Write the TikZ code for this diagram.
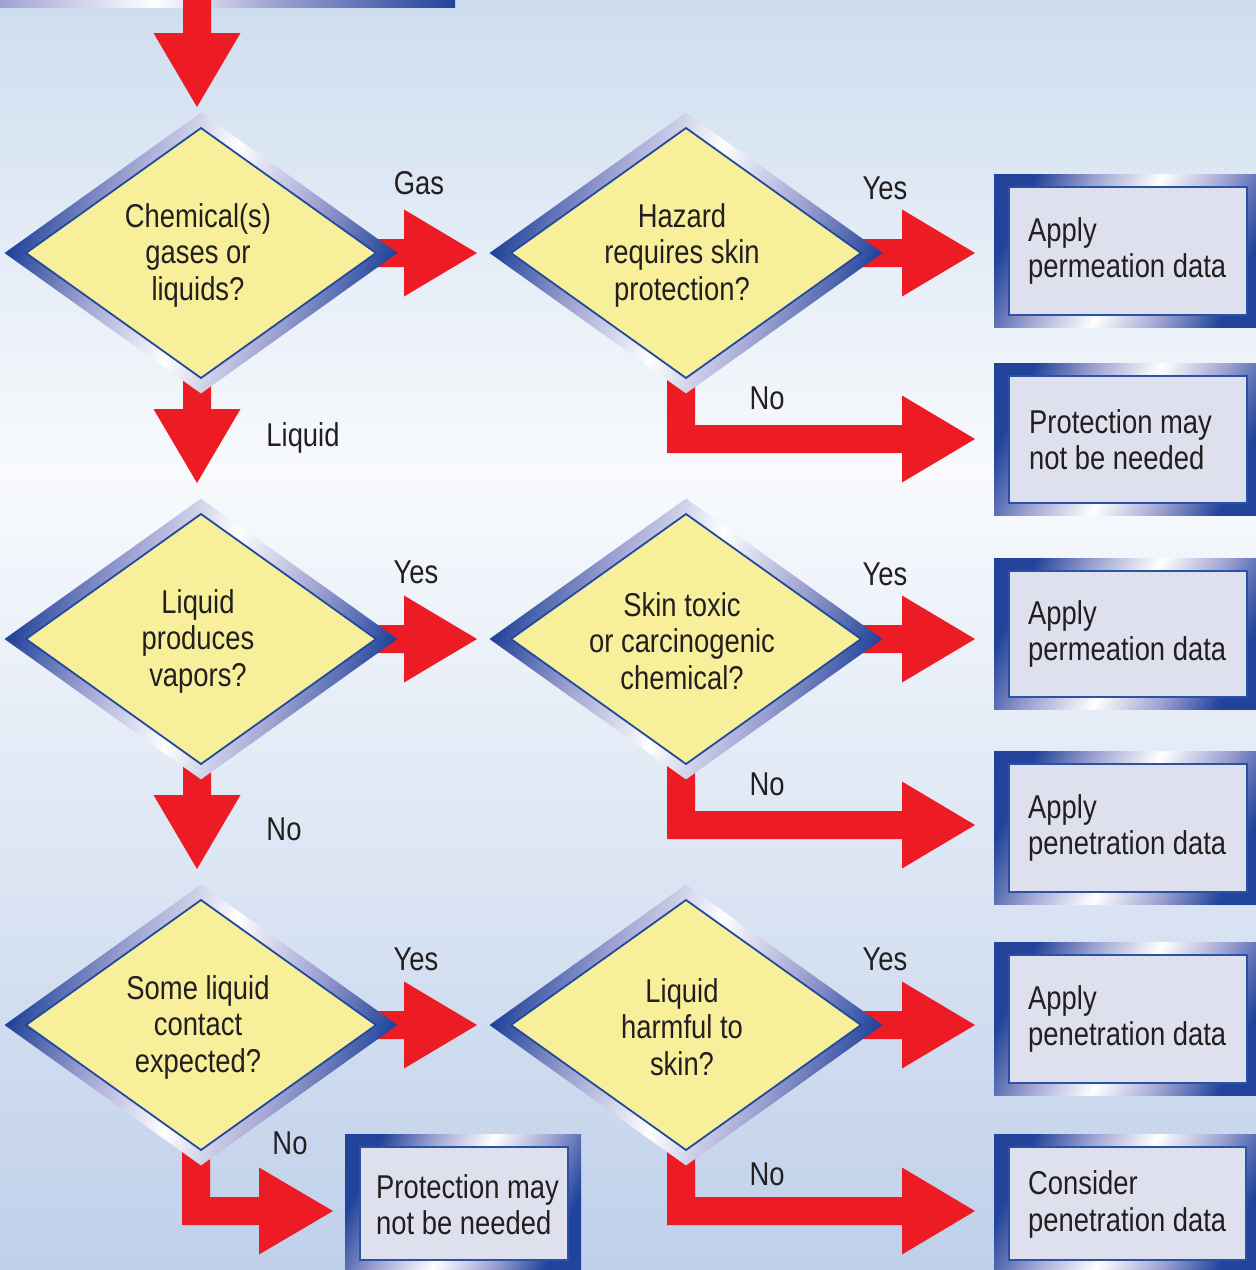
\documentclass[tikz,border=0pt]{standalone}
\usepackage{fontspec}
\setmainfont[FakeStretch=0.83]{Liberation Sans}
\usetikzlibrary{shapes.geometric,calc}
\definecolor{arrowred}{HTML}{ED1C24}
\definecolor{dyellow}{HTML}{F7EF99}
\definecolor{dblue}{HTML}{1F4A9E}
\definecolor{bblue}{HTML}{2A52A5}
\definecolor{boxfill}{HTML}{DFE0EE}
\definecolor{tcol}{HTML}{231F20}
\definecolor{fdark}{HTML}{21439A}
\definecolor{flav}{HTML}{9EA2D2}
\definecolor{bgtop}{HTML}{CEDDEF}
\definecolor{bgmid}{HTML}{F8FAFD}
\definecolor{bgbot}{HTML}{BFD0EA}
\pgfdeclarehorizontalshading{frameshade}{100bp}{color(0bp)=(fdark); color(25bp)=(fdark); color(37bp)=(flav); color(50bp)=(white); color(63bp)=(flav); color(75bp)=(fdark); color(100bp)=(fdark)}
\pgfdeclarehorizontalshading{barshade}{100bp}{color(0bp)=(flav); color(25bp)=(flav); color(42bp)=(white); color(55bp)=(flav); color(75bp)=(fdark); color(100bp)=(fdark)}
\pgfdeclarelayer{bgl}
\pgfdeclarelayer{arrl}
\pgfdeclarelayer{frl}
\pgfsetlayers{bgl,arrl,frl,main}
\newcommand\lab{\fontsize{33}{36.5}\selectfont}
\newcommand\rarrow[4]{\fill[arrowred] let \p1=(#1.center), \p2=(#2.west) in (\x1+100pt,\y1+14pt) -- (\x2-#3pt,\y1+14pt) -- (\x2-#3pt,\y1+43.5pt) -- (\x2-#4pt,\y1) -- (\x2-#3pt,\y1-43.5pt) -- (\x2-#3pt,\y1-14pt) -- (\x1+100pt,\y1-14pt) -- cycle;}
\newcommand\darrow[2]{\fill[arrowred] let \p1=(#1.center), \p2=(#2.north) in (\x1-18pt,\y1) -- (\x1-18pt,\y2+105pt) -- (\x1-47.5pt,\y2+105pt) -- (\x1-4pt,\y2+31pt) -- (\x1+39.5pt,\y2+105pt) -- (\x1+10pt,\y2+105pt) -- (\x1+10pt,\y1) -- cycle;}
\newcommand\larrow[4]{\fill[arrowred] let \p1=(#1.center), \p2=(#2.west) in (\x1-19pt,\y1-100pt) -- (\x1-19pt,\y1-200pt) -- (\x2-#3pt,\y1-200pt) -- (\x2-#3pt,\y1-229.5pt) -- (\x2-#4pt,\y1-186pt) -- (\x2-#3pt,\y1-142.5pt) -- (\x2-#3pt,\y1-172pt) -- (\x1+9pt,\y1-172pt) -- (\x1+9pt,\y1-100pt) -- cycle;}
\newcommand\dframe[1]{\shade[dfr] ($(#1.west)+(-21.5,0)$) -- ($(#1.north)+(0,15.4)$) -- ($(#1.east)+(21.5,0)$) -- ($(#1.south)+(0,-15.4)$) -- cycle;}
\newcommand\bframe[1]{\shade[bfr] ($(#1.south west)+(-15,-12)$) rectangle ($(#1.north east)+(13,13)$);}
\tikzset{
  dia/.style={shape=diamond, minimum width=350pt, minimum height=250pt, inner sep=0pt, outer sep=0pt, fill=dyellow, draw=dblue, line width=1.8pt},
  infobox/.style={shape=rectangle, inner sep=0pt, outer sep=0pt, fill=boxfill, draw=bblue, line width=1.8pt},
  dtext/.style={font=\lab, align=center, inner sep=0pt, text=tcol},
  btext/.style={font=\lab, align=left, inner sep=0pt, text=tcol, anchor=west},
  lbl/.style={font=\lab, inner sep=0pt, text=tcol},
  dfr/.style={shading=frameshade, shading angle=-19},
  bfr/.style={shading=frameshade, shading angle=-25}
}
\begin{document}
\begin{tikzpicture}[x=1pt,y=1pt]
\useasboundingbox (0,0) rectangle (1256,-1270);
\begin{pgfonlayer}{bgl}
  \fill[top color=bgtop, bottom color=bgmid] (0,0) rectangle (1256,-471);
  \fill[top color=bgmid, bottom color=bgbot] (0,-470) rectangle (1256,-1270);
  \shade[shading=barshade] (0,0) rectangle (455,-7);
\end{pgfonlayer}
% decision diamonds
\node[dia] (d1) at (201,-253) {};
\node[dia] (d2) at (686,-253) {};
\node[dia] (d3) at (201,-639) {};
\node[dia] (d4) at (686,-639) {};
\node[dia] (d5) at (201,-1025) {};
\node[dia] (d6) at (686,-1025) {};
\node[dtext] (d1t) at ($(d1)+(-3,-2)$) {Chemical(s)\\gases or\\liquids?};
\node[dtext] (d2t) at ($(d2)+(-4,-2)$) {Hazard\\requires skin\\protection?};
\node[dtext] (d3t) at ($(d3)+(-3,-2)$) {Liquid\\produces\\vapors?};
\node[dtext] (d4t) at ($(d4)+(-4,-2)$) {Skin toxic\\or carcinogenic\\chemical?};
\node[dtext] (d5t) at ($(d5)+(-3,-2)$) {Some liquid\\contact\\expected?};
\node[dtext] (d6t) at ($(d6)+(-4,-2)$) {Liquid\\harmful to\\skin?};
% result boxes
\node[infobox, minimum width=238pt, minimum height=128pt] (b1) at (1128,-251) {};
\node[infobox, minimum width=238pt, minimum height=127pt] (b2) at (1128,-439.5) {};
\node[infobox, minimum width=238pt, minimum height=126pt] (b3) at (1128,-634) {};
\node[infobox, minimum width=238pt, minimum height=128pt] (b4) at (1128,-828) {};
\node[infobox, minimum width=238pt, minimum height=128pt] (b5) at (1128,-1019) {};
\node[infobox, minimum width=237pt, minimum height=113pt] (b6) at (1127.5,-1203.5) {};
\node[infobox, minimum width=208pt, minimum height=113pt] (b7) at (464,-1203.5) {};
\node[btext] (b1t) at ($(b1.west)+(19,0)$) {Apply\\permeation data};
\node[btext] (b2t) at ($(b2.west)+(20,0)$) {Protection may\\not be needed};
\node[btext] (b3t) at ($(b3.west)+(19,0)$) {Apply\\permeation data};
\node[btext] (b4t) at ($(b4.west)+(19,0)$) {Apply\\penetration data};
\node[btext] (b5t) at ($(b5.west)+(19,0)$) {Apply\\penetration data};
\node[btext] (b6t) at ($(b6.west)+(19,-1)$) {Consider\\penetration data};
\node[btext] (b7t) at ($(b7.west)+(16,-1)$) {Protection may\\not be needed};
% branch labels
\node[lbl] (l1) at (419,-183) {Gas};
\node[lbl] (l2) at (885,-188) {Yes};
\node[lbl] (l3) at (767,-398) {No};
\node[lbl] (l4) at (303,-438) {Liquid};
\node[lbl] (l5) at (416,-572) {Yes};
\node[lbl] (l6) at (885,-574) {Yes};
\node[lbl] (l7) at (767,-784) {No};
\node[lbl] (l8) at (284,-829) {No};
\node[lbl] (l9) at (416,-959) {Yes};
\node[lbl] (l10) at (885,-959) {Yes};
\node[lbl] (l11) at (290,-1143) {No};
\node[lbl] (l12) at (767,-1174) {No};
\coordinate (topin) at (197,0);
\begin{pgfonlayer}{arrl}
  \fill[arrowred] let \p1=(topin), \p2=(d1.north) in (\x1-14pt,\y1) -- (\x1-14pt,\y2+95pt) -- (\x1-43.5pt,\y2+95pt) -- (\x1,\y2+21pt) -- (\x1+43.5pt,\y2+95pt) -- (\x1+14pt,\y2+95pt) -- (\x1+14pt,\y1) -- cycle;
  \rarrow{d1}{d2}{107}{34}
  \rarrow{d2}{b1}{107}{34}
  \rarrow{d3}{d4}{107}{34}
  \rarrow{d4}{b3}{107}{34}
  \rarrow{d5}{d6}{107}{34}
  \rarrow{d6}{b5}{107}{34}
  \darrow{d1}{d3}
  \darrow{d3}{d5}
  \larrow{d2}{b2}{107}{34}
  \larrow{d4}{b4}{107}{34}
  \larrow{d6}{b6}{107}{34}
  \larrow{d5}{b7}{101}{27}
\end{pgfonlayer}
\begin{pgfonlayer}{frl}
  \dframe{d1}\dframe{d2}\dframe{d3}\dframe{d4}\dframe{d5}\dframe{d6}
  \bframe{b1}\bframe{b2}\bframe{b3}\bframe{b4}\bframe{b5}\bframe{b6}\bframe{b7}
\end{pgfonlayer}
\end{tikzpicture}
\end{document}
